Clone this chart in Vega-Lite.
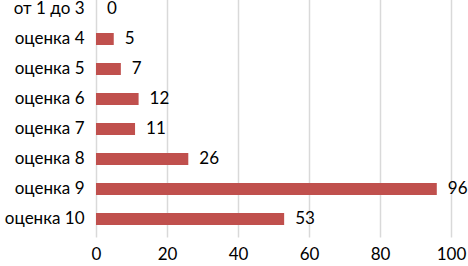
{
  "$schema": "https://vega.github.io/schema/vega-lite/v6.json",
  "autosize": {"type": "none"},
  "width": 355,
  "height": 246,
  "padding": {"left": 96, "top": -9, "right": 17, "bottom": 29},
  "background": "white",
  "config": {"view": {"stroke": null}, "font": "Lato"},
  "data": {"values": [
    {"cat": "от 1 до 3", "v": 0},
    {"cat": "оценка 4", "v": 5},
    {"cat": "оценка 5", "v": 7},
    {"cat": "оценка 6", "v": 12},
    {"cat": "оценка 7", "v": 11},
    {"cat": "оценка 8", "v": 26},
    {"cat": "оценка 9", "v": 96},
    {"cat": "оценка 10", "v": 53}
  ]},
  "encoding": {
    "y": {"field": "cat", "type": "nominal", "sort": null,
      "scale": {"paddingInner": 0.6, "paddingOuter": 0.4},
      "axis": {"title": null, "ticks": false, "domain": false, "labelFontSize": 17, "labelColor": "#000000", "labelPadding": 12, "labelFont": "Lato"}},
    "x": {"field": "v", "type": "quantitative",
      "scale": {"domain": [0, 100], "nice": false},
      "axis": {"title": null, "values": [0, 20, 40, 60, 80, 100], "ticks": false, "domain": false, "grid": true, "gridColor": "#d9d9d9", "gridWidth": 1.5, "labelFontSize": 17, "labelColor": "#000000", "labelPadding": 9, "labelFont": "Lato", "labelFlush": false}}
  },
  "layer": [
    {"mark": {"type": "bar", "color": "#C0504D"}},
    {"mark": {"type": "text", "align": "left", "dx": 11, "fontSize": 17, "color": "#000000", "font": "Lato"},
      "encoding": {"text": {"field": "v", "type": "quantitative"}}}
  ]
}
